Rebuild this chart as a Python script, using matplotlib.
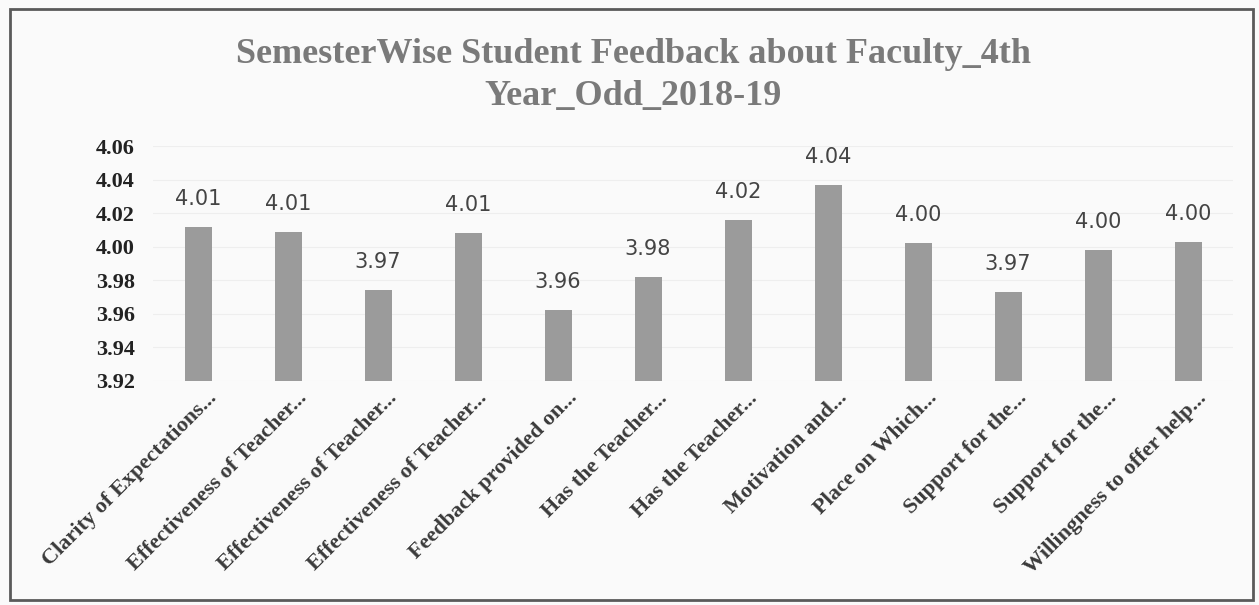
import matplotlib
matplotlib.use("Agg")
import matplotlib.pyplot as plt
from matplotlib.patches import Rectangle
from matplotlib.transforms import ScaledTranslation

categories = [
    "Clarity of Expectations...",
    "Effectiveness of Teacher...",
    "Effectiveness of Teacher...",
    "Effectiveness of Teacher...",
    "Feedback provided on...",
    "Has the Teacher...",
    "Has the Teacher...",
    "Motivation and...",
    "Place on Which...",
    "Support for the...",
    "Support for the...",
    "Willingness to offer help...",
]
values = [4.012, 4.009, 3.974, 4.008, 3.962, 3.982, 4.016, 4.037, 4.002, 3.973, 3.998, 4.003]
yticks = [3.92, 3.94, 3.96, 3.98, 4.00, 4.02, 4.04, 4.06]
title_lines = ["SemesterWise Student Feedback about Faculty_4th", "Year_Odd_2018-19"]

W, H = 1259, 605
fig = plt.figure(figsize=(W / 100, H / 100), dpi=100)
fig.patch.set_facecolor("#fafafa")

ax = fig.add_axes([153 / W, 1 - 381 / H, (1233 - 153) / W, (381 - 146) / H])
ax.set_facecolor("#fafafa")

x = list(range(len(values)))
ax.bar(x, [v - yticks[0] for v in values], bottom=yticks[0], width=0.3,
       color="#9b9b9b", edgecolor="none", zorder=2)
ax.set_xlim(-0.5, len(values) - 0.5)
ax.set_ylim(yticks[0], yticks[-1])
ax.set_yticks(yticks)
ax.set_yticklabels([f"{t:.2f}" for t in yticks], family="Liberation Serif",
                   fontweight="bold", fontsize=16, color="#222222")
ax.set_xticks(x)
ax.set_xticklabels(categories, rotation=45, ha="right", va="center",
                   rotation_mode="anchor", family="Liberation Serif",
                   fontweight="bold", fontsize=16, color="#3a3a3a")
ax.tick_params(axis="both", length=0)
ax.tick_params(axis="y", pad=13)
ax.tick_params(axis="x", pad=0)
off = ScaledTranslation(16 / 100, -14 / 100, fig.dpi_scale_trans)
for lab in ax.get_xticklabels():
    lab.set_transform(lab.get_transform() + off)
for s in ax.spines.values():
    s.set_visible(False)
ax.grid(axis="y", color="#eeeeee", linewidth=0.8, zorder=0)

for xi, v in zip(x, values):
    ax.annotate(f"{v:.2f}", (xi, v), xytext=(0, 13), textcoords="offset points",
                ha="center", va="bottom", family="DejaVu Sans", fontsize=15,
                color="#444444")

fig.text(633 / W, 1 - 63 / H, title_lines[0], ha="center", va="baseline",
         family="Liberation Serif", fontweight="bold", fontsize=26,
         color="#7a7a7a")
fig.text(633 / W, 1 - 105 / H, title_lines[1], ha="center", va="baseline",
         family="Liberation Serif", fontweight="bold", fontsize=26,
         color="#7a7a7a")

fig.patches.append(Rectangle((10 / W, 1 - 600 / H), (1253 - 10) / W, (600 - 9) / H,
                             transform=fig.transFigure, fill=False,
                             edgecolor="#5a5a5a", linewidth=2))

fig.savefig("out.png", dpi=100, facecolor=fig.get_facecolor())
